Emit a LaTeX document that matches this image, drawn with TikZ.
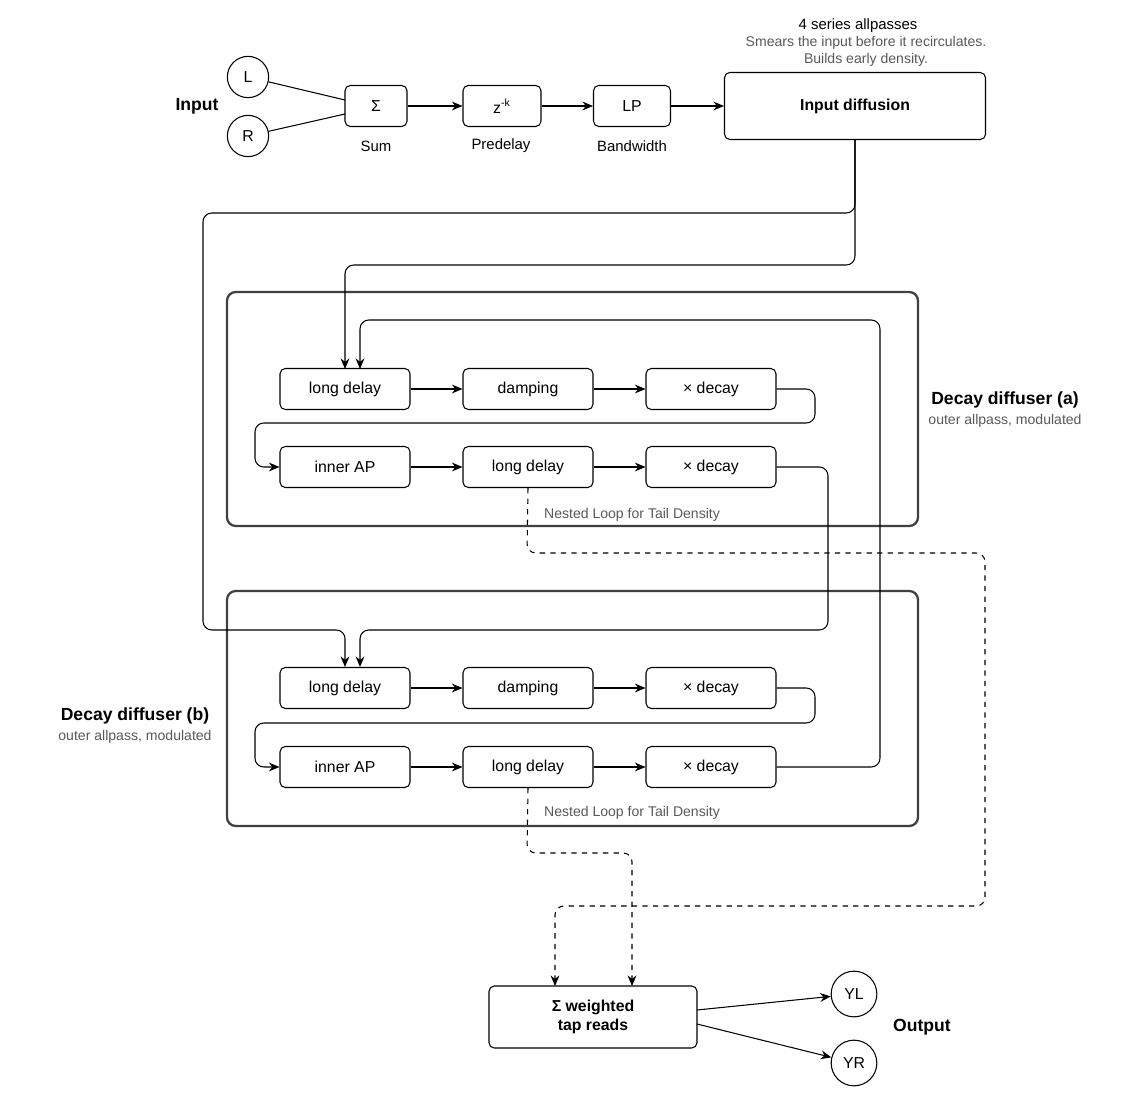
\documentclass[tikz,border=0pt]{standalone}
\usepackage{fontspec}
\setmainfont{Liberation Sans}
\usetikzlibrary{arrows.meta}
\begin{document}
\begin{tikzpicture}[x=0.02cm,y=-0.02cm,
  box/.style={draw,rounded corners=3pt,line width=0.6pt,font=\fontsize{9}{11}\selectfont,inner sep=0},
  circ/.style={draw,circle,minimum size=23.5pt,inner sep=0,line width=0.6pt,font=\fontsize{9}{11}\selectfont},
  grp/.style={draw=black!75,rounded corners=5pt,line width=1.3pt},
  lbl/.style={font=\fontsize{8.5}{10}\selectfont},
  glbl/.style={font=\fontsize{8}{10}\selectfont,text=black!65},
  ttl/.style={font=\bfseries\fontsize{10}{12}\selectfont},
  arr/.style={-{Stealth[length=6pt,width=5pt]},line width=0.6pt,rounded corners=5pt},
  darr/.style={arr,dashed},
  ln/.style={line width=0.6pt}]
\useasboundingbox (0,0) rectangle (1145,1094);
\newcommand{\bx}[4]{\node[box,minimum width=#3*0.02cm,minimum height=41*0.02cm] (#1) at (#2) {#4};}
% top row
\node[circ] (L) at (248,77) {L};
\node[circ] (R) at (248,136) {R};
\node[ttl] (inp) at (197,106) {Input};
\node[box,minimum width=62*0.02cm,minimum height=41*0.02cm] (sum) at (376,106) {Σ};
\node[box,minimum width=78*0.02cm,minimum height=41*0.02cm] (pre) at (502,106) {z\textsuperscript{-k}};
\node[box,minimum width=77*0.02cm,minimum height=41*0.02cm] (lp) at (632,106) {LP};
\node[box,minimum width=261*0.02cm,minimum height=67*0.02cm,font=\bfseries\fontsize{9}{11}\selectfont] (idf) at (855,106) {Input diffusion};
\node[lbl] (sl) at (376,146) {Sum};
\node[lbl] (pl) at (501,146) {Predelay};
\node[lbl] (bl) at (632,146) {Bandwidth};
\node[lbl] (t1) at (858,26) {4 series allpasses};
\node[glbl] (t2) at (866,43) {Smears the input before it recirculates.};
\node[glbl] (t3) at (866,60) {Builds early density.};
\draw[ln] (L) -- (345,100);
\draw[ln] (R) -- (345,114);
\draw[arr] (sum) -- (pre);
\draw[arr] (pre) -- (lp);
\draw[arr] (lp) -- (idf);
% groups
\draw[grp] (227,292) rectangle (918,526);
\draw[grp] (227,591) rectangle (918,826);
\node[ttl] (ga) at (1005,400) {Decay diffuser (a)};
\node[glbl] (gas) at (1005,421) {outer allpass, modulated};
\node[ttl] (gb) at (135,716) {Decay diffuser (b)};
\node[glbl] (gbs) at (135,737) {outer allpass, modulated};
\node[glbl] (na) at (632,515) {Nested Loop for Tail Density};
\node[glbl] (nb) at (632,813) {Nested Loop for Tail Density};
% rows
\bx{a1}{345,389}{130}{long delay}
\bx{a2}{528,389}{130}{damping}
\bx{a3}{711,389}{130}{× decay}
\bx{a4}{345,467}{130}{inner AP}
\bx{a5}{528,467}{130}{long delay}
\bx{a6}{711,467}{130}{× decay}
\bx{b1}{345,688}{130}{long delay}
\bx{b2}{528,688}{130}{damping}
\bx{b3}{711,688}{130}{× decay}
\bx{b4}{345,767}{130}{inner AP}
\bx{b5}{528,767}{130}{long delay}
\bx{b6}{711,767}{130}{× decay}
\foreach \p/\q in {a1/a2,a2/a3,a4/a5,a5/a6,b1/b2,b2/b3,b4/b5,b5/b6}{\draw[arr] (\p) -- (\q);}
\draw[arr] (a3.east) -- (815,389) -- (815,423) -- (255,423) -- (255,467) -- (a4.west);
\draw[arr] (b3.east) -- (815,688) -- (815,723) -- (255,723) -- (255,767) -- (b4.west);
% feeds from input diffusion
\draw[arr] (idf.south) -- (855,265) -- (345,265) -- (345,369);
\draw[arr] (idf.south) -- (855,213) -- (203,213) -- (203,630) -- (345,630) -- (345,667);
% loops
\draw[arr] (a6.east) -- (828,467) -- (828,630) -- (360,630) -- (360,667);
\draw[arr] (b6.east) -- (880,767) -- (880,320) -- (360,320) -- (360,369);
% output
\node[box,minimum width=208*0.02cm,minimum height=62*0.02cm,font=\bfseries\fontsize{9}{11}\selectfont,align=center] (wt) at (593,1017) {Σ weighted\\tap reads};
\node[circ,minimum size=26pt] (YL) at (854,994) {YL};
\node[circ,minimum size=26pt] (YR) at (854,1063) {YR};
\node[ttl] (out) at (922,1027) {Output};
\draw[arr] (697,1010) -- (YL);
\draw[arr] (697,1024) -- (YR);
\draw[darr] (a5.south) -- (527,553) -- (985,553) -- (985,906) -- (555,906) -- (555,986);
\draw[darr] (b5.south) -- (527,853) -- (632,853) -- (632,986);
\end{tikzpicture}
\end{document}
